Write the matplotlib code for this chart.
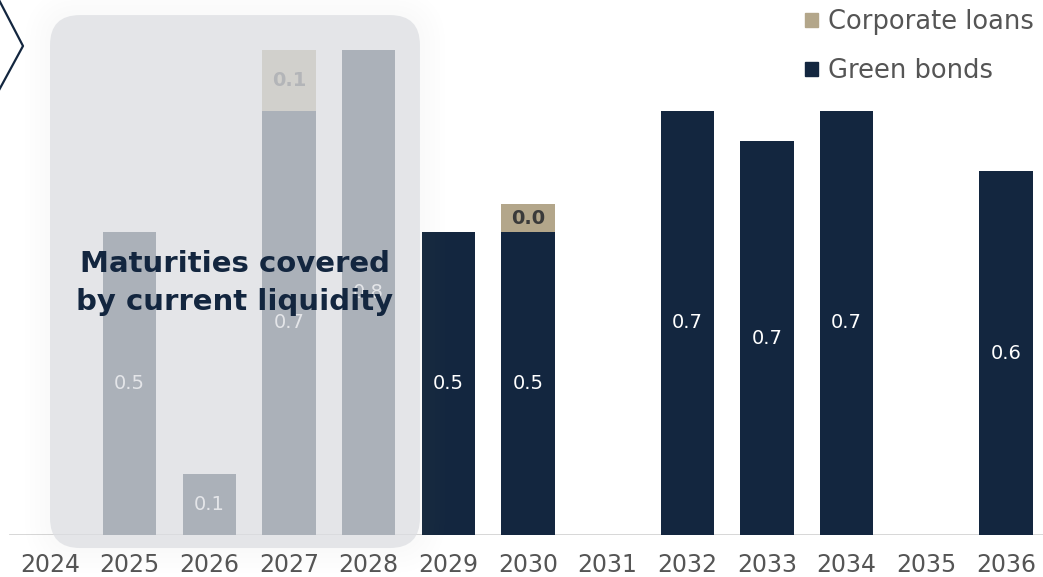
import matplotlib
matplotlib.use("Agg")
import matplotlib.pyplot as plt
from matplotlib.patches import FancyBboxPatch, Patch
from matplotlib.transforms import IdentityTransform

# maturity profile, EUR bn
years = [2024, 2025, 2026, 2027, 2028, 2029, 2030, 2031, 2032, 2033, 2034, 2035, 2036]
green_bonds = [0, 0.5, 0.1, 0.7, 0.8, 0.5, 0.5, 0, 0.7, 0.65, 0.7, 0, 0.6]
corporate_loans = [0, 0, 0, 0.1, 0, 0, 0.046, 0, 0, 0, 0, 0, 0]
covered_years = [2024, 2028]  # span shaded as covered by liquidity

navy = "#13263f"
tan = "#b3a68a"
grey_txt = "#555555"

W, H = 1043, 577
fig = plt.figure(figsize=(W / 100, H / 100), dpi=100)
ax = fig.add_axes([0, 42 / H, 1, 535 / H])
ax.set_facecolor("none")

x = list(range(len(years)))
ax.bar(x, green_bonds, width=0.67, color=navy, zorder=2)
ax.bar(x, corporate_loans, width=0.67, bottom=green_bonds, color=tan, zorder=2)

for i, (g, c) in enumerate(zip(green_bonds, corporate_loans)):
    if g > 0:
        ax.text(i, g / 2, f"{g:.1f}", ha="center", va="center",
                color="white", fontsize=14, zorder=3)
    if c > 0:
        ax.text(i, g + c / 2, f"{c:.1f}", ha="center", va="center",
                color="#3a3a3a", fontsize=14, fontweight="bold", zorder=3)

ax.set_xlim(-50 / 79.67, 12 + 37 / 79.67)
ax.set_ylim(0, 535 / 606)
ax.set_xticks(x)
ax.set_xticklabels([str(y) for y in years], fontsize=17, color=grey_txt)
ax.tick_params(axis="x", length=0, pad=13)
ax.set_yticks([])
for s in ax.spines.values():
    s.set_visible(False)
ax.axhline(0, xmin=10 / W, xmax=1, color="#d4d4d4", lw=2, zorder=1)

# shaded box over the years already covered
x0 = years.index(covered_years[0])
x1 = years.index(covered_years[1]) + 0.644
(px0, py0), (px1, py1) = ax.transData.transform([(x0, -0.0215), (x1, 0.858)])
for k in range(5, 0, -1):
    halo = FancyBboxPatch((px0 - 5 * k, py0 - 5 * k), px1 - px0 + 10 * k, py1 - py0 + 10 * k,
                          boxstyle="round,pad=0,rounding_size=%d" % (30 + 5 * k),
                          transform=IdentityTransform(), facecolor="#b0b0b0",
                          edgecolor="none", alpha=0.007, zorder=4, clip_on=False)
    ax.add_patch(halo)
box = FancyBboxPatch((px0, py0), px1 - px0, py1 - py0,
                     boxstyle="round,pad=0,rounding_size=30",
                     transform=IdentityTransform(), facecolor="#dddfe3",
                     edgecolor="none", alpha=0.75, zorder=4, clip_on=False)
ax.add_patch(box)

ax.text(2.32, 0.416, "Maturities covered\nby current liquidity", ha="center", va="center",
        color=navy, fontsize=21, fontweight="bold", linespacing=1.45, zorder=6)

# chevron mark in the corner
fig.add_artist(plt.Line2D([-2 / W, 23 / W, -2 / W], [1 + 2 / H, 1 - 46 / H, 1 - 92 / H],
                          transform=fig.transFigure, color=navy, lw=1.6))

handles = [Patch(color=tan, label="Corporate loans"), Patch(color=navy, label="Green bonds")]
leg = fig.legend(handles=handles, loc="upper left", bbox_to_anchor=(805 / W, 1 - 9 / H),
                 frameon=False, fontsize=18.5, handlelength=0.5, handleheight=0.5,
                 handletextpad=0.4, labelspacing=0.9, borderpad=0, borderaxespad=0)
for t in leg.get_texts():
    t.set_color(grey_txt)

fig.savefig("out.png", dpi=100)
